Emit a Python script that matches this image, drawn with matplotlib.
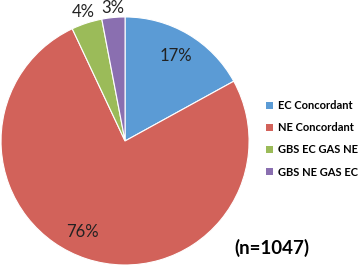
import numpy as np
import matplotlib
matplotlib.use("Agg")
import matplotlib.pyplot as plt
from matplotlib.patches import Patch

categories = ["EC Concordant", "NE Concordant", "GBS EC GAS NE", "GBS NE GAS EC"]
percents = [17, 76, 4, 3]
colors = ["#5B9BD5", "#D2625A", "#9BBB59", "#8A6FB0"]
label_dist = [0.80, 0.81, 1.09, 1.08]
label_shift = [0, -7, 0, 0]   # degrees, nudges label off the wedge middle
note = "(n=1047)"

plt.rcParams['font.family'] = ['Lato', 'DejaVu Sans']

fig = plt.figure(figsize=(3.58, 2.67), dpi=100)
ax = fig.add_axes([0.0028, 0.0075, 0.693, 0.929])

wedges, _ = ax.pie(percents, colors=colors, startangle=90, counterclock=False,
                   wedgeprops=dict(edgecolor='white', linewidth=0.8))
ax.set_xlim(-1, 1)
ax.set_ylim(-1, 1)
ax.set_aspect('equal')
for w in wedges:
    w.set_clip_on(False)

# percentage labels at the wedge middles
for w, p, d, s in zip(wedges, percents, label_dist, label_shift):
    ang = np.deg2rad((w.theta1 + w.theta2) / 2 + s)
    ax.text(d * np.cos(ang), d * np.sin(ang), "%d%%" % p, ha='center', va='center',
            fontsize=12, color='#222222', clip_on=False)

handles = [Patch(facecolor=c, edgecolor='none') for c in colors]
fig.legend(handles, categories, loc='center left', bbox_to_anchor=(0.728, 0.48),
           frameon=False, prop=dict(size=8, weight='bold'), handlelength=0.6,
           handleheight=0.6, handletextpad=0.5, labelspacing=1.0, borderpad=0)

fig.text(0.656, 0.072, note, fontsize=13.5, fontweight='bold', ha='left', va='center')

fig.savefig('out.png', dpi=100)
